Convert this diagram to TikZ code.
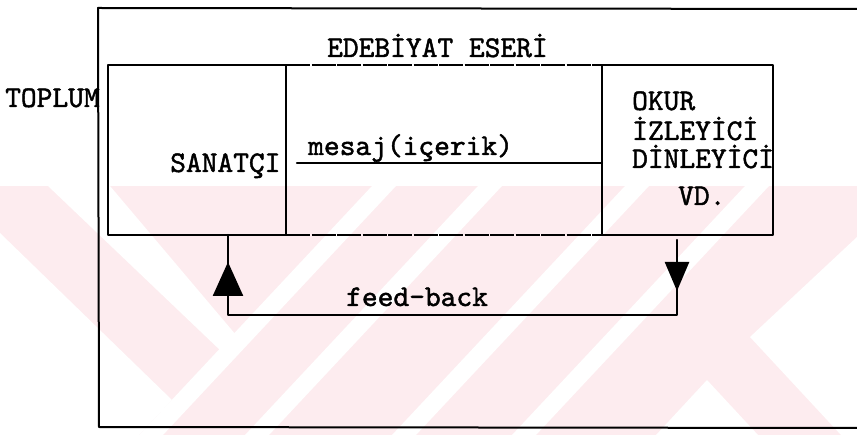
\documentclass[tikz,border=0pt]{standalone}
\usepackage{fontspec}
\usetikzlibrary{arrows.meta}
\definecolor{wm}{RGB}{253,236,239}
\newfontfamily\tw{lmmono10-regular}[Extension=.otf, FakeBold=1.5]
\newcommand\twfont{\tw\fontsize{30}{30}\selectfont}
\begin{document}
\begin{tikzpicture}[x=1pt,y=-1pt,
  ln/.style={line width=2.4pt, line cap=round, line join=round},
  dln/.style={line width=2.6pt, line cap=butt, dash pattern=on 24pt off 1.5pt},
  frame/.style={line width=2pt, line cap=round, line join=round},
  box/.style={draw, ln, rectangle, inner sep=0pt, outer sep=0pt},
  lbl/.style={font=\twfont, inner sep=0pt, anchor=base west},
  tipL/.style={-{Triangle[length=34pt,width=30pt]}},
  tipR/.style={-{Triangle[length=29pt,width=24pt]}}]
\useasboundingbox (0,0) rectangle (857,435);
% watermark
\begin{scope}
  \clip (0,186) rectangle (857,435);
  \fill[wm] (0,186) rectangle (857,435);
  \foreach \a in {372,478,625,745}
    \fill[white] (\a,186) -- ++(24,0) -- ++(-233,249) -- ++(-24,0) -- cycle;
  \fill[white] (48,186) -- (110,186) -- (236,335) -- (222,352) -- cycle;
  \fill[white] (0,233) -- (172,400) -- (139,435) -- (0,435) -- cycle;
  \fill[white] (707,380) -- (758,435) -- (656,435) -- cycle;
  \fill[white] (750,337) -- (857,237) -- (857,435) -- (841,435) -- cycle;
\end{scope}
% outer frame (TOPLUM)
\coordinate (tl) at (98,8);
\coordinate (tr) at (857,9);
\coordinate (bl) at (99,427);
\coordinate (br) at (857,428);
\draw[frame] (tr) -- (tl) -- (bl) -- (br);
% boxes
\node[box, minimum width=178pt, minimum height=170pt] (san) at (197,150) {};
\node[box, minimum width=171pt, minimum height=170pt] (okur) at (687.5,150) {};
\draw[dln] (san.north east) -- (okur.north west);
\draw[dln] (san.south east) -- (okur.south west);
% message line
\coordinate (m0) at (297,163);
\draw[ln] (m0) -- (okur.west |- m0);
% feedback loop
\coordinate (r0) at (677,240);
\coordinate (fR) at (677,315);
\coordinate (fL) at (228,315);
\draw[ln] (r0) -- (fR) -- (fL) -- (san.south -| fL);
\coordinate (aRs) at (677,262);
\coordinate (aRe) at (677,291);
\draw[ln, tipR] (aRs) -- (aRe);
\coordinate (aLs) at (228,296);
\coordinate (aLe) at (228,262);
\draw[ln, tipL] (aLs) -- (aLe);
% labels
\node[lbl] (eser) at (327,57) {EDEBİYAT ESERİ};
\node[lbl] (toplum) at (5,107) {TOPLUM};
\node[lbl] (sanatci) at (170,172) {SANATÇI};
\node[lbl] (mesaj) at (308,155) {mesaj(içerik)};
\node[lbl] (okur1) at (632,110) {OKUR};
\node[lbl] (okur2) at (632,140) {İZLEYİCİ};
\node[lbl] (okur3) at (632,168) {DİNLEYİCİ};
\node[lbl] (okur4) at (678,205) {VD.};
\node[lbl] (fb) at (346,306) {feed-back};
\end{tikzpicture}
\end{document}
